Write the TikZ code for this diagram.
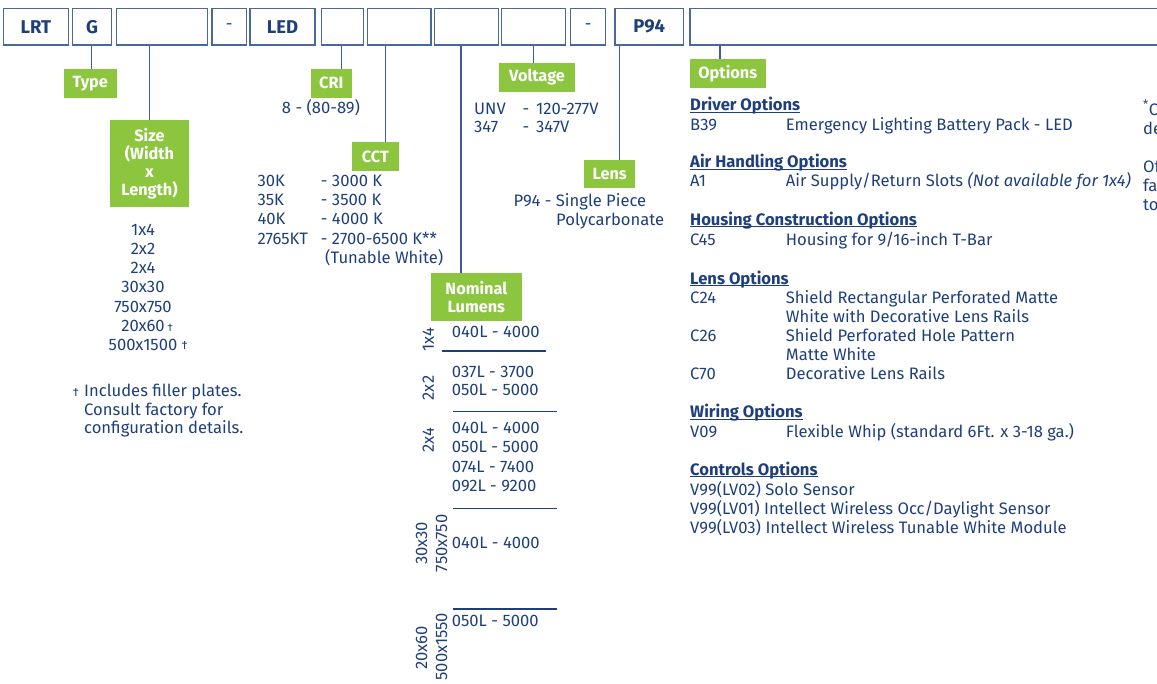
\documentclass[tikz,border=0pt]{standalone}
\usepackage{fontspec}
\setmainfont{Fira Sans}
\definecolor{navy}{HTML}{1E3F7C}
\definecolor{boxline}{HTML}{4A6898}
\definecolor{lime}{HTML}{8CC63F}
\newcommand{\fsz}{\fontsize{16.6}{19}\selectfont}
\newsavebox{\hdbox}
\newcommand{\hdul}[1]{\sbox\hdbox{\textbf{#1}}\rlap{\rule[-2.4pt]{\wd\hdbox}{1.2pt}}\usebox\hdbox}
\begin{document}
\begin{tikzpicture}[x=1pt,y=-1pt,
  codebox/.style={draw=boxline, line width=1.5pt, minimum height=36.7pt, inner sep=0pt,
     font=\fontsize{18.5}{20}\selectfont\bfseries, text=navy},
  dashbox/.style={codebox, font=\fsz},
  tag/.style={fill=lime, text=white, inner sep=0pt, font=\fontsize{16.3}{19}\selectfont\bfseries, align=center},
  txt/.style={anchor=base west, inner sep=0pt, text=navy, font=\fsz},
  ctxt/.style={anchor=base, inner sep=0pt, text=navy, font=\fsz},
  rtxt/.style={anchor=center, inner sep=0pt, text=navy, font=\fsz, rotate=90},
  conn/.style={draw=navy!85!white, line width=1.3pt},
  sep/.style={draw=navy, line width=1.2pt}]
\useasboundingbox (0,0) rectangle (1157,683);

% top code row
\node[codebox, minimum width=65pt]   (lrt) at (35.8,26.7) {LRT};
\node[codebox, minimum width=39pt]   (g)   at (92.2,26.7) {G};
\node[codebox, minimum width=91pt]   (b1)  at (162.2,26.7) {};
\node[dashbox, minimum width=34.7pt] (d1)  at (229.3,26.7) {-};
\node[codebox, minimum width=65pt]   (led) at (282.5,26.7) {LED};
\node[codebox, minimum width=41.6pt] (b2)  at (342.5,26.7) {};
\node[codebox, minimum width=63.7pt] (b3)  at (399.2,26.7) {};
\node[codebox, minimum width=64pt]   (b4)  at (466.3,26.7) {};
\node[codebox, minimum width=64pt]   (b5)  at (533.7,26.7) {};
\node[dashbox, minimum width=35pt]   (d2)  at (588.2,26.7) {-};
\node[codebox, minimum width=68.3pt] (p94) at (649.2,26.7) {P94};
\coordinate (b6nw) at (690,8.35);
\coordinate (b6sw) at (690,45.05);
\draw[draw=boxline, line width=1.5pt] (1160,8.35) -- (b6nw) -- (b6sw) -- (1160,45.05);

% green tags
\node[tag, minimum width=52.7pt, minimum height=28.7pt] (type) at (90.3,83.3) {Type};
\node[tag, minimum width=79pt, minimum height=86.7pt] (size) at (149.5,163.3) {Size\\[-1pt](Width\\[-1pt]x\\[-1pt]Length)};
\node[tag, minimum width=40.7pt, minimum height=28.7pt] (cri) at (331.3,83.3) {CRI};
\node[tag, minimum width=47.3pt, minimum height=29pt] (cct) at (375.3,156.5) {CCT};
\node[tag, minimum width=90.7pt, minimum height=47.7pt] (lum) at (476.3,297.2) {Nominal\\[-1pt]Lumens};
\node[tag, minimum width=76pt, minimum height=29pt] (volt) at (537,77.2) {Voltage};
\node[tag, minimum width=50.7pt, minimum height=28.3pt] (lens) at (609.7,174.2) {Lens};
\node[tag, minimum width=75.7pt, minimum height=29pt] (opt) at (727.8,73.5) {Options};

% connectors
\draw[conn] ([xshift=-0.5pt]g.south) -- ([xshift=-0.5pt]g.south |- type.north);
\draw[conn] (b1.south -| size.north) -- (size.north);
\draw[conn] ([xshift=-0.8pt]b2.south) -- ([xshift=-0.8pt]b2.south |- cri.north);
\draw[conn] ([xshift=18.7pt]b3.south west) -- ([xshift=18.7pt]b3.south west |- cct.north);
\draw[conn] ([xshift=27.4pt]b4.south west) -- ([xshift=27.4pt]b4.south west |- lum.north);
\draw[conn] (b5.south) -- (b5.south |- volt.north);
\draw[conn] ([xshift=5pt]p94.south west) -- ([xshift=5pt]p94.south west |- lens.north);
\draw[conn] ([xshift=30pt]b6sw) -- ([xshift=30pt]b6sw |- opt.north);

% CRI
\node[ctxt] (cri1) at (321,113.3) {8 - (80-89)};

% Size list
\node[ctxt] (s1) at (143,235) {1x4};
\node[ctxt] (s2) at (143,254.3) {2x2};
\node[ctxt] (s3) at (143,273.6) {2x4};
\node[ctxt] (s4) at (143,292.9) {30x30};
\node[ctxt] (s5) at (143,312.2) {750x750};
\node[ctxt] (s6) at (143,331.5) {20x60\rlap{\,{\fontsize{11}{11}\selectfont †}}};
\node[ctxt] (s7) at (143,350.8) {500x1500\rlap{ \raisebox{1pt}{\fontsize{12}{12}\selectfont †}}};
\node[txt] (fn0) at (72.7,396.5) {\fontsize{12}{12}\selectfont †};
\node[txt] (fn1) at (84,396.5) {Includes filler plates.};
\node[txt] (fn2) at (84,415) {Consult factory for};
\node[txt] (fn3) at (84,433.5) {configuration details.};

% CCT list
\node[txt] (c1a) at (257.3,186.5) {30K};
\node[txt] (c1b) at (320.7,186.5) {- 3000 K};
\node[txt] (c2a) at (257.3,205.5) {35K};
\node[txt] (c2b) at (320.7,205.5) {- 3500 K};
\node[txt] (c3a) at (257.3,224.5) {40K};
\node[txt] (c3b) at (320.7,224.5) {- 4000 K};
\node[txt] (c4a) at (257.3,244) {2765KT};
\node[txt] (c4b) at (320.7,244) {- 2700-6500 K**};
\node[txt] (c5b) at (325,263) {(Tunable White)};

% Voltage
\node[txt] (v1a) at (474,114.3) {UNV};
\node[txt] (v1b) at (522.3,114.3) {-};
\node[txt] (v1c) at (536,114.3) {120-277V};
\node[txt] (v2a) at (474,132.7) {347};
\node[txt] (v2b) at (522.3,132.7) {-};
\node[txt] (v2c) at (536,132.7) {347V};

% Lens
\node[txt] (l1) at (513.3,206.7) {P94 - Single Piece};
\node[txt] (l2) at (556,225) {Polycarbonate};

% Nominal lumens
\node[rtxt] (r1) at (428.3,340) {1x4};
\node[txt] (n1) at (451.7,337.8) {040L - 4000};
\draw[sep] (442.3,351) -- (546,351);
\node[rtxt] (r2) at (428.3,388) {2x2};
\node[txt] (n2) at (451.7,377.2) {037L - 3700};
\node[txt] (n3) at (451.7,395.5) {050L - 5000};
\draw[sep] (453.3,411.7) -- (556.7,411.7);
\node[rtxt] (r3) at (428.3,440) {2x4};
\node[txt] (n4) at (451.7,433.8) {040L - 4000};
\node[txt] (n5) at (451.7,452.8) {050L - 5000};
\node[txt] (n6) at (451.7,472.3) {074L - 7400};
\node[txt] (n7) at (451.7,491.5) {092L - 9200};
\draw[sep] (453.3,508.3) -- (556.7,508.3);
\node[rtxt] (r4) at (421.5,543.3) {30x30};
\node[rtxt] (r5) at (441.5,543.3) {750x750};
\node[txt] (n8) at (451.7,548.8) {040L - 4000};
\draw[sep] (453.3,609) -- (556.7,609);
\node[rtxt] (r6) at (421.5,648) {20x60};
\node[rtxt] (r7) at (441.5,646.7) {500x1550};
\node[txt] (n9) at (451.7,626.2) {050L - 5000};

% Options
\node[txt] (h1) at (690,110.7) {\hdul{Driver Options}};
\node[txt] (o1a) at (690,130) {B39};
\node[txt] (o1b) at (785.7,130) {Emergency Lighting Battery Pack - LED};
\node[txt] (h2) at (690,167.3) {\hdul{Air Handling Options}};
\node[txt] (o2a) at (690,186.7) {A1};
\node[txt] (o2b) at (785.7,186.7) {Air Supply/Return Slots \textit{(Not available for 1x4)}};
\node[txt] (h3) at (690,225) {\hdul{Housing Construction Options}};
\node[txt] (o3a) at (690,245) {C45};
\node[txt] (o3b) at (785.7,245) {Housing for 9/16-inch T-Bar};
\node[txt] (h4) at (690,284) {\hdul{Lens Options}};
\node[txt] (o4a) at (690,303.3) {C24};
\node[txt] (o4b) at (785.7,303.3) {Shield Rectangular Perforated Matte};
\node[txt] (o4c) at (785.7,322.3) {White with Decorative Lens Rails};
\node[txt] (o5a) at (690,341.3) {C26};
\node[txt] (o5b) at (785.7,341.3) {Shield Perforated Hole Pattern};
\node[txt] (o5c) at (785.7,360) {Matte White};
\node[txt] (o6a) at (690,379) {C70};
\node[txt] (o6b) at (785.7,379) {Decorative Lens Rails};
\node[txt] (h5) at (690,417.7) {\hdul{Wiring Options}};
\node[txt] (o7a) at (690,437.3) {V09};
\node[txt] (o7b) at (785.7,437.3) {Flexible Whip (standard 6Ft. x 3-18 ga.)};
\node[txt] (h6) at (690,475) {\hdul{Controls Options}};
\node[txt] (o8) at (690,495) {V99(LV02) Solo Sensor};
\node[txt] (o9) at (690,514) {V99(LV01) Intellect Wireless Occ/Daylight Sensor};
\node[txt] (o10) at (690,533.3) {V99(LV03) Intellect Wireless Tunable White Module};

% right-edge fragments
\node[txt] (e1) at (1143,115) {\textsuperscript{*}C};
\node[txt] (e2) at (1143,134) {de};
\node[txt] (e3) at (1143,172) {Of};
\node[txt] (e4) at (1143,191) {fa};
\node[txt] (e5) at (1143,210) {to};
\end{tikzpicture}
\end{document}
